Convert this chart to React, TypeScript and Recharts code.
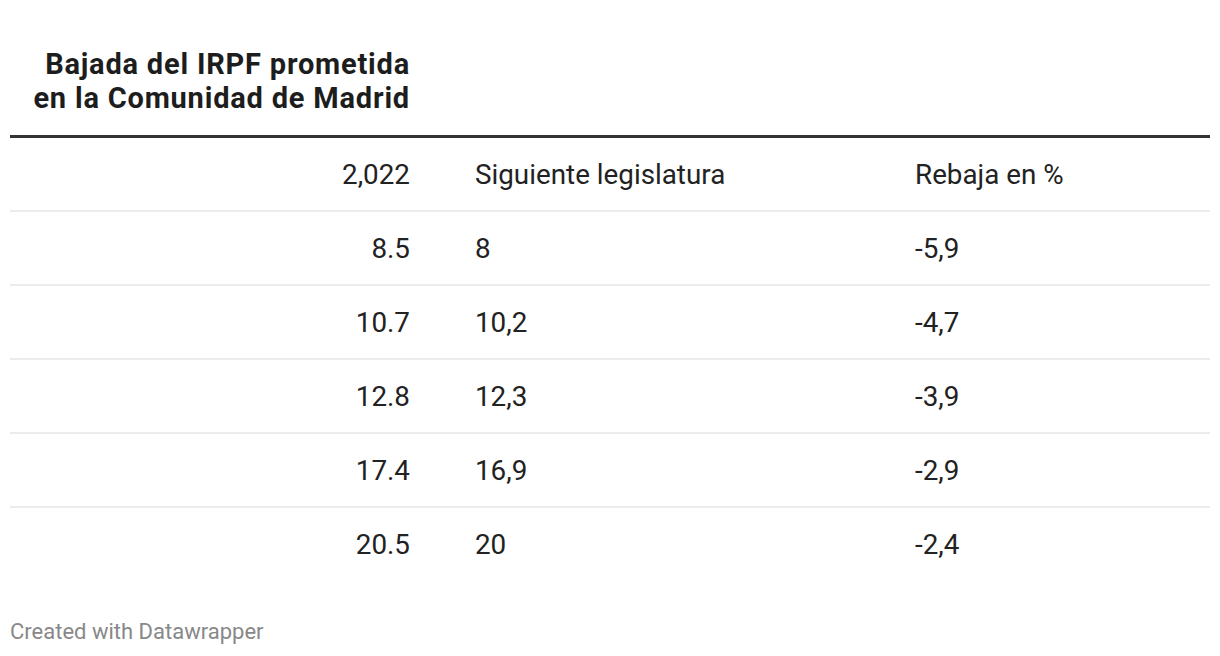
import { Bar, ComposedChart, XAxis, YAxis } from "recharts";

// table content, one array per column (first entry is the header)
const col2022 = ["2,022", "8.5", "10.7", "12.8", "17.4", "20.5"];
const siguiente = ["Siguiente legislatura", "8", "10,2", "12,3", "16,9", "20"];
const rebaja = ["Rebaja en %", "-5,9", "-4,7", "-3,9", "-2,9", "-2,4"];
const titleLines = ["Bajada del IRPF prometida", "en la Comunidad de Madrid"];
const footer = "Created with Datawrapper";

const rows = col2022.map((c, i) => ({
  key: `r${i}`,
  c2022: c,
  siguiente: siguiente[i],
  rebaja: rebaja[i],
  v: i === 0 ? null : parseFloat(c),
}));

const W = 1220;
const H = 656;
const ROW_H = 74;
const FONT = "Roboto, 'Noto Sans', sans-serif";
const TEXT = "#222";
const BODY = 27.8;

function RowTick(props: any) {
  const { y, index } = props;
  const row = rows[index];
  if (!row) return null;
  const top = y - ROW_H / 2;
  const bottom = y + ROW_H / 2;
  const base = y + 10;
  return (
    <g>
      {index === 0 && <rect x={10} y={top - 2} width={1200} height={3} fill="#333" />}
      {index < rows.length - 1 && <rect x={10} y={bottom - 1} width={1200} height={2} fill="#ececec" />}
      <text x={410} y={base} textAnchor="end" fontSize={BODY} fill={TEXT} fontFamily={FONT}>
        {row.c2022}
      </text>
      <text x={475} y={base} textAnchor="start" fontSize={BODY} fill={TEXT} fontFamily={FONT}>
        {row.siguiente}
      </text>
      <text x={915} y={base} textAnchor="start" fontSize={BODY} fill={TEXT} fontFamily={FONT}>
        {row.rebaja}
      </text>
    </g>
  );
}

export default function App() {
  return (
    <div style={{ position: "relative", width: W, height: H, background: "#fff" }}>
      <style>{`body{margin:0}`}</style>
      <ComposedChart
        width={W}
        height={H}
        data={rows}
        layout="vertical"
        margin={{ top: 137, right: 10, bottom: H - 137 - ROW_H * rows.length, left: 0 }}
      >
        <XAxis type="number" hide domain={[0, 100]} />
        <YAxis
          type="category"
          dataKey="key"
          width={10}
          axisLine={false}
          tickLine={false}
          interval={0}
          tick={<RowTick />}
        />
        <Bar dataKey="v" fill="transparent" isAnimationActive={false} />
      </ComposedChart>
      <svg width={W} height={H} style={{ position: "absolute", left: 0, top: 0, pointerEvents: "none" }}>
        {titleLines.map((t, i) => (
          <text
            key={t}
            x={410}
            y={73.5 + i * 34.5}
            textAnchor="end"
            fontSize={29}
            letterSpacing={0.8}
            fontWeight={700}
            fill="#1d1d1d"
            fontFamily={FONT}
          >
            {t}
          </text>
        ))}
        <text x={10} y={639} fontSize={22} fill="#888" fontFamily={FONT}>
          {footer}
        </text>
      </svg>
    </div>
  );
}
